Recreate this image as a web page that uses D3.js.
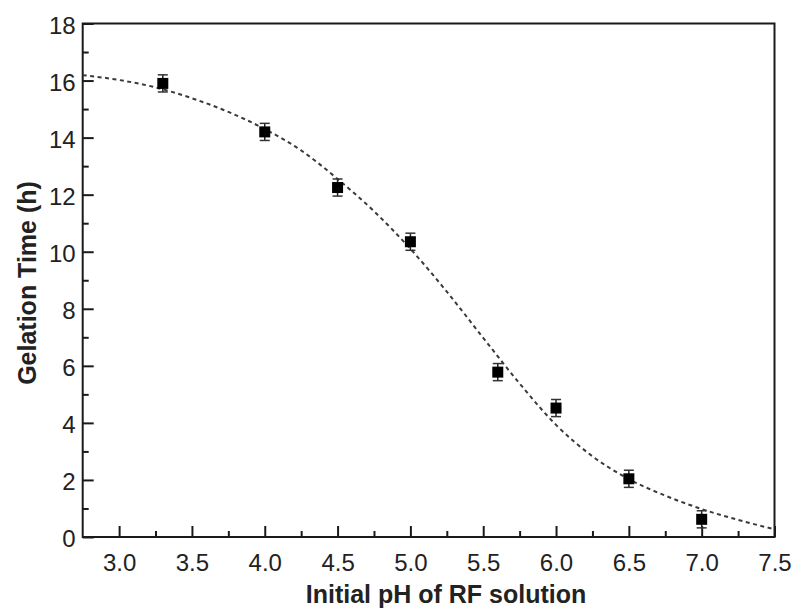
<!DOCTYPE html>
<html>
<head>
<meta charset="utf-8">
<script src="https://cdn.jsdelivr.net/npm/d3@7"></script>
<style>
  html, body { margin: 0; padding: 0; background: #fff; }
  svg { display: block; font-family: "Liberation Sans", Arial, Helvetica, sans-serif; }
</style>
</head>
<body>
<svg id="chart" width="796" height="608"></svg>
<script>
// ---- data ----
const phValues = [3.3, 4.0, 4.5, 5.0, 5.6, 6.0, 6.5, 7.0];
const gelTimes = [15.9, 14.2, 12.25, 10.35, 5.78, 4.52, 2.04, 0.62];
const gelErrors = [0.3, 0.3, 0.3, 0.3, 0.3, 0.3, 0.3, 0.3];
const fitPh = [2.75, 3.0, 3.25, 3.5, 3.75, 4.0, 4.25, 4.5, 4.75, 5.0, 5.25, 5.5, 5.75, 6.0, 6.25, 6.5, 6.75, 7.0, 7.25, 7.5];
const fitTimes = [16.19, 16.02, 15.76, 15.38, 14.90, 14.30, 13.55, 12.55, 11.42, 10.10, 8.60, 6.98, 5.38, 3.93, 2.83, 2.03, 1.45, 0.98, 0.60, 0.27];
const xTickValues = [3.0, 3.5, 4.0, 4.5, 5.0, 5.5, 6.0, 6.5, 7.0, 7.5];
const xMinorTicks = [3.25, 3.75, 4.25, 4.75, 5.25, 5.75, 6.25, 6.75, 7.25];
const yTickValues = [0, 2, 4, 6, 8, 10, 12, 14, 16, 18];
const yMinorTicks = [1, 3, 5, 7, 9, 11, 13, 15, 17];
const xLabel = "Initial pH of RF solution";
const yLabel = "Gelation Time (h)";

// ---- layout ----
const W = 796, H = 608;
const m = { left: 82.7, right: 21.5, top: 23.5, bottom: 71 };
const iw = W - m.left - m.right, ih = H - m.top - m.bottom;
const svg = d3.select("#chart");
const g = svg.append("g").attr("transform", `translate(${m.left},${m.top})`);

const x = d3.scaleLinear().domain([2.75, 7.5]).range([0, iw]);
const y = d3.scaleLinear().domain([0, 18]).range([ih, 0]);

const ink = "#1a1a1a";

// x axis
const xAxis = g.append("g").attr("transform", `translate(0,${ih})`)
  .call(d3.axisBottom(x).tickValues(xTickValues).tickFormat(d3.format(".1f")).tickSizeInner(-11).tickSizeOuter(0).tickPadding(17));
xAxis.select(".domain").remove();
xAxis.selectAll(".tick line").attr("stroke", ink).attr("stroke-width", 2);
xAxis.selectAll(".tick text").attr("fill", "#222").attr("font-size", 24).attr("font-family", "Liberation Sans, Arial, sans-serif");
const xMin = g.append("g").attr("transform", `translate(0,${ih})`)
  .call(d3.axisBottom(x).tickValues(xMinorTicks).tickFormat("").tickSizeInner(-6).tickSizeOuter(0));
xMin.select(".domain").remove();
xMin.selectAll(".tick line").attr("stroke", ink).attr("stroke-width", 2);

// y axis
const yAxis = g.append("g")
  .call(d3.axisLeft(y).tickValues(yTickValues).tickFormat(d3.format("d")).tickSizeInner(-11).tickSizeOuter(0).tickPadding(7));
yAxis.select(".domain").remove();
yAxis.selectAll(".tick line").attr("stroke", ink).attr("stroke-width", 2);
yAxis.selectAll(".tick text").attr("fill", "#222").attr("font-size", 24).attr("dy", "0.40em").attr("font-family", "Liberation Sans, Arial, sans-serif");
const yMin = g.append("g")
  .call(d3.axisLeft(y).tickValues(yMinorTicks).tickFormat("").tickSizeInner(-6).tickSizeOuter(0));
yMin.select(".domain").remove();
yMin.selectAll(".tick line").attr("stroke", ink).attr("stroke-width", 2);

// frame
g.append("rect").attr("x", 0).attr("y", 0).attr("width", iw).attr("height", ih)
  .attr("fill", "none").attr("stroke", ink).attr("stroke-width", 2);

// fit curve
const fitData = fitPh.map((p, i) => ({ p, t: fitTimes[i] }));
g.append("path").datum(fitData)
  .attr("d", d3.line().x(d => x(d.p)).y(d => y(d.t)).curve(d3.curveMonotoneX))
  .attr("fill", "none").attr("stroke", "#3a3a3a").attr("stroke-width", 2)
  .attr("stroke-dasharray", "4,3.5");

// error bars and markers
const pts = phValues.map((p, i) => ({ p, t: gelTimes[i], e: gelErrors[i] }));
const eb = g.append("g").selectAll("g").data(pts).join("g");
eb.append("line").attr("x1", d => x(d.p)).attr("x2", d => x(d.p))
  .attr("y1", d => y(d.t - d.e)).attr("y2", d => y(d.t + d.e))
  .attr("stroke", "#222").attr("stroke-width", 1.5);
eb.append("line").attr("x1", d => x(d.p) - 5).attr("x2", d => x(d.p) + 5)
  .attr("y1", d => y(d.t + d.e)).attr("y2", d => y(d.t + d.e))
  .attr("stroke", "#333").attr("stroke-width", 1.5);
eb.append("line").attr("x1", d => x(d.p) - 5).attr("x2", d => x(d.p) + 5)
  .attr("y1", d => y(d.t - d.e)).attr("y2", d => y(d.t - d.e))
  .attr("stroke", "#333").attr("stroke-width", 1.5);
eb.append("rect").attr("x", d => x(d.p) - 5.5).attr("y", d => y(d.t) - 5.5)
  .attr("width", 11).attr("height", 11).attr("fill", "#000");

// axis titles
svg.append("text").attr("x", 446).attr("y", 603)
  .attr("text-anchor", "middle").attr("font-size", 25).attr("font-weight", "bold")
  .attr("fill", "#222").text(xLabel);
svg.append("text").attr("transform", `translate(36,283) rotate(-90)`)
  .attr("text-anchor", "middle").attr("font-size", 25).attr("font-weight", "bold")
  .attr("fill", "#222").text(yLabel);
</script>
</body>
</html>
